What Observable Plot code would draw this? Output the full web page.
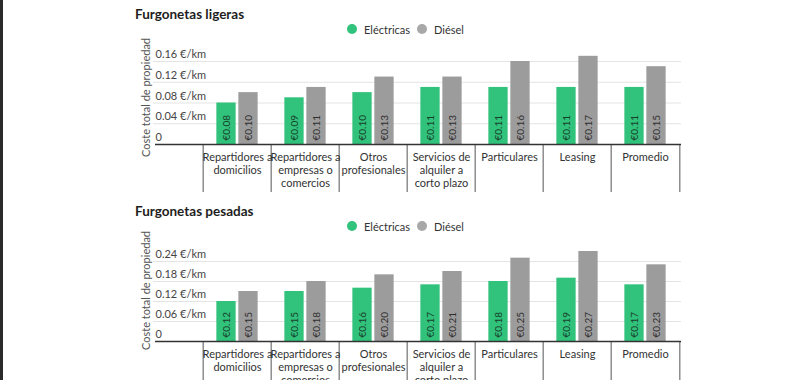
<!DOCTYPE html>
<html>
<head>
<meta charset="utf-8">
<script src="https://cdn.jsdelivr.net/npm/d3@7"></script>
<script src="https://cdn.jsdelivr.net/npm/@observablehq/plot@0.6"></script>
<style>
  html, body { margin: 0; padding: 0; background: #fff; overflow: hidden; }
  body { width: 800px; height: 380px; position: relative; font-family: Lato, "Open Sans", sans-serif; }
  .edge { position: absolute; left: 0; top: 0; width: 3px; height: 380px; background: #2a2a2a; z-index: 5; }
  .panel { position: relative; height: 197px; }
  .title { position: absolute; left: 135px; top: 5px; font-weight: bold; font-size: 13.5px; line-height: 18px; color: #1e1e1e; white-space: nowrap; }
  .legend { position: absolute; left: 347px; top: 21px; height: 16px; display: flex; align-items: center; font-size: 11px; color: #333; white-space: nowrap; }
  .item { display: flex; align-items: center; margin-right: 7px; }
  .sw { width: 10px; height: 10px; border-radius: 50%; display: inline-block; margin-right: 7px; }
  .chart { position: absolute; left: 0; top: 40px; }
  .chart svg { overflow: visible; }
</style>
</head>
<body>
<div class="edge"></div>
<div id="root"></div>
<script>
// ---- data ----
const categories = ["Repartidores a domicilios", "Repartidores a empresas o comercios", "Otros profesionales", "Servicios de alquiler a corto plazo", "Particulares", "Leasing", "Promedio"];
const categoryLabels = ["Repartidores a\ndomicilios", "Repartidores a\nempresas o\ncomercios", "Otros\nprofesionales", "Servicios de\nalquiler a\ncorto plazo", "Particulares", "Leasing", "Promedio"];
const series = ["Eléctricas", "Diésel"];
const seriesColors = ["#31c27b", "#9c9c9c"];
const legendColors = ["#31c27b", "#a8a8a8"];

const ligerasElectricas = [0.08, 0.09, 0.10, 0.11, 0.11, 0.11, 0.11];
const ligerasDiesel     = [0.10, 0.11, 0.13, 0.13, 0.16, 0.17, 0.15];
const pesadasElectricas = [0.12, 0.15, 0.16, 0.17, 0.18, 0.19, 0.17];
const pesadasDiesel     = [0.15, 0.18, 0.20, 0.21, 0.25, 0.27, 0.23];

const ligerasTicks = [0, 0.04, 0.08, 0.12, 0.16];
const ligerasTickLabels = ["0", "0.04 €/km", "0.08 €/km", "0.12 €/km", "0.16 €/km"];
const pesadasTicks = [0, 0.06, 0.12, 0.18, 0.24];
const pesadasTickLabels = ["0", "0.06 €/km", "0.12 €/km", "0.18 €/km", "0.24 €/km"];

const panelTitles = ["Furgonetas ligeras", "Furgonetas pesadas"];
const yTitle = "Coste total de propiedad";

// ---- drawing ----
function drawPanel(title, elec, dies, ticks, tickLabels, marginTop, yLabelCenter) {
  const panel = document.createElement("div");
  panel.className = "panel";
  const t = document.createElement("div");
  t.className = "title"; t.textContent = title;
  panel.appendChild(t);
  const lg = document.createElement("div");
  lg.className = "legend";
  series.forEach((s, i) => {
    const it = document.createElement("span"); it.className = "item";
    const sw = document.createElement("span"); sw.className = "sw"; sw.style.background = legendColors[i];
    it.appendChild(sw); it.appendChild(document.createTextNode(s));
    lg.appendChild(it);
  });
  panel.appendChild(lg);

  const W = 800, H = 155, frameL = 153, frameR = 681, bandL = 200, base = 104;
  const bw = (frameR - bandL) / categories.length;
  const barW = 20, gap = 2;
  const rowsE = categories.map((c, i) => ({cat: c, serie: series[0], v: elec[i]}));
  const rowsD = categories.map((c, i) => ({cat: c, serie: series[1], v: dies[i]}));
  const fmt = v => "€" + v.toFixed(2);

  const plot = Plot.plot({
    width: W, height: H,
    marginLeft: frameL, marginRight: W - frameR, marginTop, marginBottom: 3,
    style: {fontFamily: "Lato, 'Open Sans', sans-serif", fontSize: "11px", color: "#333", background: "transparent", overflow: "visible"},
    x: {type: "band", domain: categories, range: [bandL, frameR], padding: 0, axis: null},
    y: {domain: [0, ticks[ticks.length - 1]], range: [base, marginTop], axis: null},
    color: {domain: series, range: seriesColors},
    marks: [
      Plot.ruleY(ticks.slice(1), {y: d => d, stroke: "#e4e4e4", strokeWidth: 1}),
      Plot.text(ticks, {y: d => d, text: (d, i) => tickLabels[i], frameAnchor: "left", textAnchor: "start", dx: 2, dy: -7, fill: "#444", fontSize: 11}),
      Plot.barY(rowsE, {x: "cat", y: "v", fill: "serie", insetLeft: bw / 2 - gap / 2 - barW, insetRight: bw / 2 + gap / 2}),
      Plot.barY(rowsD, {x: "cat", y: "v", fill: "serie", insetLeft: bw / 2 + gap / 2, insetRight: bw / 2 - gap / 2 - barW}),
      Plot.text(rowsE, {x: "cat", y: () => 0, text: d => fmt(d.v), rotate: -90, textAnchor: "start", dx: -(gap / 2 + barW / 2), dy: -4, fill: "#17402a", fontSize: 10}),
      Plot.text(rowsD, {x: "cat", y: () => 0, text: d => fmt(d.v), rotate: -90, textAnchor: "start", dx: gap / 2 + barW / 2, dy: -4, fill: "#2e2e2e", fontSize: 10}),
      Plot.ruleX(categories, {x: d => d, dx: -bw / 2, insetTop: base - marginTop, stroke: "#555", strokeWidth: 1}),
      Plot.ruleX(categories.slice(-1), {x: d => d, dx: bw / 2, insetTop: base - marginTop, stroke: "#555", strokeWidth: 1}),
      Plot.ruleY([0], {y: d => d, stroke: "#333", strokeWidth: 1.5, insetLeft: 2}),
      Plot.text(categoryLabels, {x: (d, i) => categories[i], y: () => 0, text: d => d, lineAnchor: "top", dy: 7, lineHeight: 1.18, fill: "#333", fontSize: 11}),
      Plot.text([yTitle], {text: d => d, frameAnchor: "top-left", rotate: -90, textAnchor: "middle", dx: -11, dy: yLabelCenter - marginTop, fill: "#555", fontSize: 11})
    ]
  });
  const holder = document.createElement("div");
  holder.className = "chart";
  holder.appendChild(plot);
  panel.appendChild(holder);
  document.getElementById("root").appendChild(panel);
}

drawPanel(panelTitles[0], ligerasElectricas, ligerasDiesel, ligerasTicks, ligerasTickLabels, 21, 57);
drawPanel(panelTitles[1], pesadasElectricas, pesadasDiesel, pesadasTicks, pesadasTickLabels, 24, 53);
</script>
</body>
</html>
